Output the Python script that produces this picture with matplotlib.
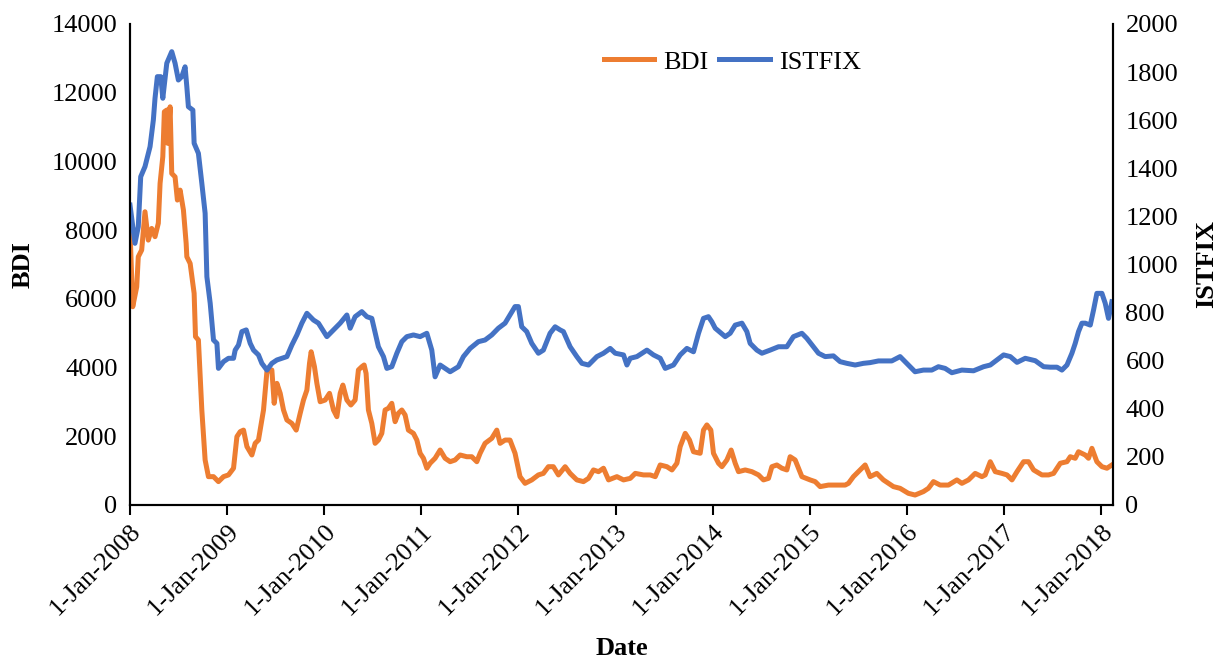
import numpy as np
import pandas as pd
import matplotlib
matplotlib.use('Agg')
import matplotlib.pyplot as plt

# dates are decimal years
bdi_t = [2008.000, 2008.028, 2008.069, 2008.085, 2008.120, 2008.154, 2008.188, 2008.223,
         2008.257, 2008.291, 2008.309, 2008.337, 2008.353, 2008.378, 2008.388, 2008.412,
         2008.429, 2008.463, 2008.487, 2008.515, 2008.549, 2008.577, 2008.584, 2008.618,
         2008.659, 2008.673, 2008.703, 2008.738, 2008.772, 2008.806, 2008.858, 2008.909,
         2008.961, 2009.012, 2009.064, 2009.099, 2009.133, 2009.167, 2009.202, 2009.253,
         2009.287, 2009.321, 2009.373, 2009.408, 2009.459, 2009.483, 2009.511, 2009.545,
         2009.579, 2009.614, 2009.665, 2009.710, 2009.751, 2009.785, 2009.820, 2009.847,
         2009.864, 2009.898, 2009.923, 2009.957, 2010.008, 2010.053, 2010.094, 2010.129,
         2010.163, 2010.191, 2010.232, 2010.273, 2010.317, 2010.351, 2010.386, 2010.410,
         2010.430, 2010.454, 2010.489, 2010.523, 2010.557, 2010.592, 2010.626, 2010.660,
         2010.695, 2010.729, 2010.763, 2010.798, 2010.832, 2010.866, 2010.918, 2010.953,
         2010.987, 2011.021, 2011.056, 2011.090, 2011.141, 2011.193, 2011.244, 2011.296,
         2011.347, 2011.399, 2011.468, 2011.519, 2011.571, 2011.605, 2011.656, 2011.725,
         2011.777, 2011.811, 2011.862, 2011.913, 2011.965, 2012.016, 2012.068, 2012.137,
         2012.205, 2012.256, 2012.308, 2012.359, 2012.411, 2012.480, 2012.531, 2012.600,
         2012.668, 2012.720, 2012.771, 2012.823, 2012.874, 2012.926, 2013.012, 2013.080,
         2013.149, 2013.201, 2013.286, 2013.355, 2013.407, 2013.458, 2013.527, 2013.579,
         2013.630, 2013.664, 2013.716, 2013.760, 2013.801, 2013.870, 2013.904, 2013.939,
         2013.980, 2014.007, 2014.059, 2014.094, 2014.145, 2014.189, 2014.231, 2014.265,
         2014.334, 2014.403, 2014.471, 2014.522, 2014.574, 2014.609, 2014.660, 2014.712,
         2014.763, 2014.797, 2014.849, 2014.918, 2015.003, 2015.055, 2015.106, 2015.192,
         2015.278, 2015.364, 2015.398, 2015.449, 2015.501, 2015.570, 2015.621, 2015.690,
         2015.758, 2015.861, 2015.930, 2016.015, 2016.084, 2016.170, 2016.221, 2016.273,
         2016.342, 2016.427, 2016.514, 2016.565, 2016.633, 2016.702, 2016.771, 2016.805,
         2016.857, 2016.908, 2016.977, 2017.029, 2017.080, 2017.132, 2017.200, 2017.251,
         2017.303, 2017.389, 2017.457, 2017.509, 2017.578, 2017.647, 2017.681, 2017.732,
         2017.766, 2017.835, 2017.869, 2017.904, 2017.955, 2018.007, 2018.059, 2018.110]
bdi = [8000, 5770, 6350, 7225, 7420, 8535, 7710, 8050,
       7810, 8200, 9360, 10135, 11445, 11495, 10525, 11590,
       9650, 9550, 8875, 9165, 8585, 7615, 7225, 7030,
       6160, 4900, 4800, 2765, 1310, 825, 825, 680,
       825, 875, 1070, 1990, 2135, 2180, 1700, 1455,
       1795, 1890, 2765, 3880, 3930, 2960, 3540, 3250,
       2765, 2475, 2375, 2180, 2670, 3055, 3345, 4125,
       4460, 4025, 3540, 3005, 3055, 3250, 2765, 2570,
       3250, 3490, 3055, 2910, 3055, 3930, 4025, 4075,
       3830, 2765, 2375, 1795, 1890, 2085, 2765, 2815,
       2960, 2425, 2670, 2765, 2620, 2180, 2085, 1890,
       1505, 1360, 1070, 1215, 1360, 1600, 1360, 1260,
       1310, 1455, 1405, 1405, 1260, 1505, 1795, 1940,
       2180, 1795, 1890, 1890, 1505, 825, 630, 730,
       875, 920, 1115, 1115, 875, 1115, 920, 730,
       680, 775, 1020, 970, 1070, 730, 825, 730,
       775, 920, 875, 875, 825, 1165, 1115, 1020,
       1215, 1700, 2085, 1890, 1550, 1505, 2180, 2330,
       2180, 1505, 1215, 1115, 1310, 1600, 1215, 970,
       1020, 970, 875, 730, 775, 1115, 1165, 1070,
       1020, 1405, 1310, 825, 730, 680, 535, 580,
       580, 580, 630, 825, 970, 1165, 825, 920,
       730, 535, 485, 340, 290, 390, 485, 680,
       580, 580, 730, 630, 730, 920, 825, 875,
       1260, 970, 920, 875, 730, 970, 1260, 1260,
       1020, 875, 875, 920, 1215, 1260, 1405, 1360,
       1550, 1455, 1360, 1650, 1260, 1115, 1070, 1165]

ist_t = [2008.000, 2008.051, 2008.085, 2008.110, 2008.154, 2008.206, 2008.240, 2008.257,
         2008.281, 2008.316, 2008.337, 2008.378, 2008.429, 2008.463, 2008.497, 2008.532,
         2008.566, 2008.584, 2008.600, 2008.646, 2008.659, 2008.703, 2008.738, 2008.772,
         2008.790, 2008.824, 2008.858, 2008.893, 2008.909, 2008.961, 2009.012, 2009.064,
         2009.081, 2009.115, 2009.150, 2009.195, 2009.236, 2009.270, 2009.321, 2009.356,
         2009.408, 2009.459, 2009.511, 2009.562, 2009.614, 2009.665, 2009.717, 2009.768,
         2009.820, 2009.888, 2009.939, 2010.026, 2010.094, 2010.163, 2010.232, 2010.266,
         2010.317, 2010.386, 2010.438, 2010.489, 2010.557, 2010.609, 2010.644, 2010.695,
         2010.747, 2010.798, 2010.850, 2010.918, 2010.987, 2011.056, 2011.107, 2011.141,
         2011.193, 2011.296, 2011.381, 2011.433, 2011.502, 2011.587, 2011.656, 2011.725,
         2011.793, 2011.862, 2011.913, 2011.965, 2011.999, 2012.034, 2012.085, 2012.137,
         2012.205, 2012.256, 2012.325, 2012.377, 2012.428, 2012.462, 2012.531, 2012.600,
         2012.652, 2012.720, 2012.806, 2012.874, 2012.943, 2012.995, 2013.080, 2013.115,
         2013.149, 2013.218, 2013.321, 2013.389, 2013.458, 2013.510, 2013.595, 2013.664,
         2013.733, 2013.801, 2013.853, 2013.904, 2013.955, 2013.990, 2014.025, 2014.128,
         2014.179, 2014.231, 2014.300, 2014.351, 2014.385, 2014.454, 2014.506, 2014.591,
         2014.677, 2014.763, 2014.831, 2014.918, 2014.969, 2015.037, 2015.089, 2015.158,
         2015.243, 2015.312, 2015.381, 2015.467, 2015.552, 2015.621, 2015.707, 2015.844,
         2015.930, 2015.999, 2016.084, 2016.170, 2016.256, 2016.324, 2016.393, 2016.462,
         2016.565, 2016.685, 2016.788, 2016.857, 2016.926, 2016.994, 2017.063, 2017.132,
         2017.217, 2017.320, 2017.406, 2017.475, 2017.544, 2017.595, 2017.647, 2017.698,
         2017.732, 2017.766, 2017.801, 2017.835, 2017.887, 2017.921, 2017.955, 2018.007,
         2018.041, 2018.075, 2018.110]
istfix = [1247, 1088, 1157, 1365, 1407, 1490, 1601, 1691,
          1781, 1781, 1691, 1837, 1885, 1837, 1767, 1781,
          1822, 1739, 1656, 1642, 1504, 1462, 1338, 1213,
          949, 839, 686, 672, 568, 596, 610, 610,
          644, 665, 721, 728, 672, 644, 624, 589,
          561, 589, 603, 610, 617, 665, 707, 756,
          797, 769, 756, 700, 728, 756, 790, 735,
          783, 804, 783, 776, 658, 617, 568, 575,
          631, 679, 700, 707, 700, 714, 644, 533,
          582, 554, 575, 617, 651, 679, 686, 707,
          735, 756, 790, 825, 825, 741, 721, 672,
          631, 644, 714, 741, 728, 721, 658, 617,
          589, 582, 617, 631, 651, 631, 624, 582,
          610, 617, 644, 624, 610, 568, 582, 624,
          651, 637, 714, 776, 783, 762, 735, 700,
          714, 748, 756, 721, 672, 644, 631, 644,
          658, 658, 700, 714, 693, 658, 631, 617,
          620, 596, 589, 582, 589, 592, 599, 599,
          617, 589, 554, 561, 561, 575, 568, 550,
          561, 558, 575, 582, 603, 624, 617, 593,
          610, 600, 575, 573, 573, 561, 582, 631,
          672, 721, 756, 756, 748, 811, 880, 880,
          839, 776, 845]

year_ticks = list(range(2008, 2019))


def to_dates(t):
    t = np.asarray(t)
    yr = np.floor(t).astype(int)
    start = pd.to_datetime([f'{y}-01-01' for y in yr])
    end = pd.to_datetime([f'{y + 1}-01-01' for y in yr])
    return start + (end - start) * (t - yr)


plt.rcParams['font.family'] = ['Liberation Serif', 'DejaVu Serif']

fig = plt.figure(figsize=(12.23, 6.59), dpi=100)
ax = fig.add_axes([0.1063, 0.2337, 0.9100 - 0.1063, 0.9636 - 0.2337])
ax2 = ax.twinx()

l1, = ax.plot(to_dates(bdi_t), bdi, color='#ED7D31', lw=3.6, label='BDI', solid_joinstyle='round')
l2, = ax2.plot(to_dates(ist_t), istfix, color='#4472C4', lw=3.6, label='ISTFIX', solid_joinstyle='round')

ax.set_ylim(0, 14000)
ax2.set_ylim(0, 2000)
ax.set_yticks(np.arange(0, 14001, 2000))
ax2.set_yticks(np.arange(0, 2001, 200))
ax.set_xlim(pd.Timestamp('2008-01-01'), pd.Timestamp('2018-02-14'))

ax.set_xticks([pd.Timestamp(f'{y}-01-01') for y in year_ticks])
ax.set_xticklabels([f'1-Jan-{y}' for y in year_ticks], rotation=45,
                   ha='right', rotation_mode='anchor', fontsize=19)

for a in (ax, ax2):
    a.spines['top'].set_visible(False)
    for s in a.spines.values():
        s.set_linewidth(1.5)
    a.tick_params(axis='y', length=0, labelsize=19, pad=9)
ax.tick_params(axis='x', length=7, width=1.5, direction='out', pad=4)

ax.set_ylabel('BDI', fontsize=19, fontweight='bold', labelpad=12)
ax2.set_ylabel('ISTFIX', fontsize=19, fontweight='bold', labelpad=12)
ax.set_xlabel('Date', fontsize=19, fontweight='bold', labelpad=12)

ax.legend(handles=[l1, l2], loc='center', bbox_to_anchor=(0.613, 0.921), ncol=2,
          frameon=False, fontsize=19, handlelength=1.9, columnspacing=0.4, handletextpad=0.35)

fig.savefig('out.png', dpi=100)
